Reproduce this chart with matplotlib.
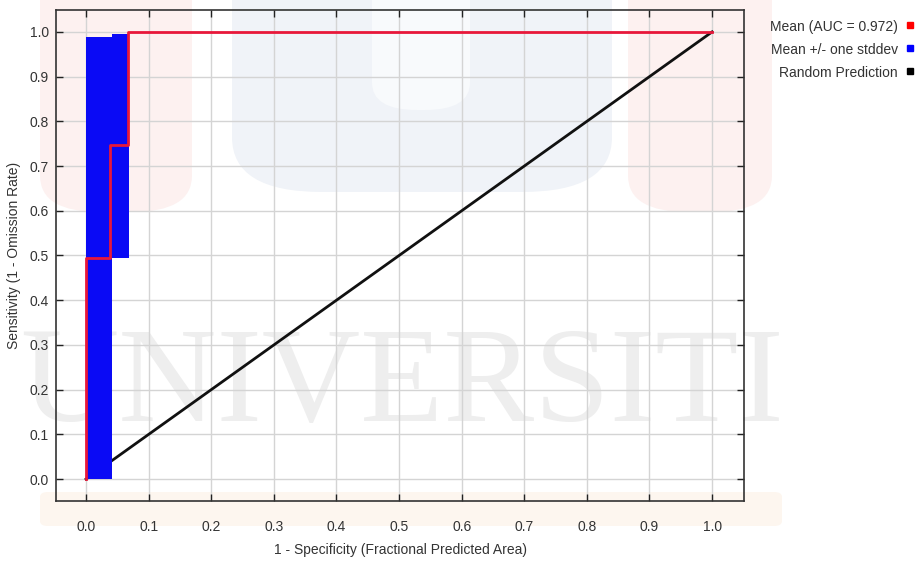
import matplotlib
matplotlib.use("Agg")
import matplotlib.pyplot as plt
from matplotlib.patches import FancyBboxPatch
from matplotlib.lines import Line2D

# mean ROC curve (step points)
mean_fpr = [0.0, 0.0, 0.039, 0.039, 0.067, 0.067, 1.0]
mean_tpr = [0.0, 0.494, 0.494, 0.746, 0.746, 1.0, 1.0]

# +/- one stddev band, drawn as steps
band_x = [0.0, 0.041, 0.041, 0.069]
band_lo = [0.0, 0.0, 0.494, 0.494]
band_hi = [0.988, 0.988, 0.995, 0.995]

rand_x = [0.0, 1.0]
rand_y = [0.0, 1.0]

ticks = [0.0, 0.1, 0.2, 0.3, 0.4, 0.5, 0.6, 0.7, 0.8, 0.9, 1.0]
tick_labels = ["0.0", "0.1", "0.2", "0.3", "0.4", "0.5", "0.6", "0.7", "0.8", "0.9", "1.0"]

legend_labels = ["Mean (AUC = 0.972)", "Mean +/- one stddev", "Random Prediction"]
legend_colors = ["#ff0000", "#0000ff", "#000000"]

plt.rcParams["font.family"] = ["Liberation Sans", "DejaVu Sans"]

W, H = 922, 561
fig = plt.figure(figsize=(W / 100, H / 100), dpi=100)
fig.patch.set_facecolor("white")


def px_box(x0, y0, x1, y1, color, r=30):
    # box given in pixel coords (top-left origin)
    p = FancyBboxPatch((x0 / W, 1 - y1 / H), (x1 - x0) / W, (y1 - y0) / H,
                       boxstyle="round,pad=0,rounding_size=%f" % (r / W),
                       transform=fig.transFigure, facecolor=color,
                       edgecolor="none", zorder=-5)
    fig.patches.append(p)


# faint logo in the background
px_box(40, -60, 192, 212, "#fdf1f0", 60)
px_box(628, -60, 772, 212, "#fdf1f0", 60)
px_box(232, -60, 612, 192, "#f0f3f8", 90)
px_box(372, -60, 470, 110, "#f8fafc", 45)
px_box(40, 492, 782, 526, "#fdf6ef", 8)
fig.text(402 / W, 1 - 388 / H, "UNIVERSITI", family="Liberation Serif",
         fontsize=98, color="#eeeeee", ha="center", va="center", zorder=-4)

ax = fig.add_axes([56 / W, 1 - 501 / H, (744 - 56) / W, (501 - 10) / H])
ax.set_facecolor("none")

ax.plot(rand_x, rand_y, color="#111111", lw=2, zorder=2)
ax.fill_between(band_x, band_lo, band_hi, step="post", color="#0a0af5",
                lw=0, zorder=3)
ax.plot(mean_fpr, mean_tpr, color="#e8173a", lw=2, zorder=4)

ax.set_xlim(-0.048, 1.051)
ax.set_ylim(-0.049, 1.049)
ax.set_xticks(ticks)
ax.set_xticklabels(tick_labels)
ax.set_yticks(ticks)
ax.set_yticklabels(tick_labels)
ax.tick_params(direction="in", length=5, width=1, colors="#222222",
               top=True, right=True, labelsize=10, pad=14)
ax.tick_params(axis="y", pad=5)
for lbl in ax.get_xticklabels() + ax.get_yticklabels():
    lbl.set_color("#333333")
ax.grid(True, color="#d4d4d4", lw=1)
ax.set_axisbelow(True)
for s in ax.spines.values():
    s.set_color("#333333")
    s.set_linewidth(1.2)

ax.set_xlabel("1 - Specificity (Fractional Predicted Area)", fontsize=10,
              color="#333333", labelpad=6)
ax.set_ylabel("Sensitivity (1 - Omission Rate)", fontsize=10,
              color="#333333", labelpad=6)

# legend on the right, text right-aligned with square markers
for i, (lab, col) in enumerate(zip(legend_labels, legend_colors)):
    yy = 1 - (27 + 23 * i) / H
    fig.text(898 / W, yy, lab, ha="right", va="center", fontsize=10,
             color="#333333")
    fig.add_artist(Line2D([910 / W], [yy + 2 / H], marker="s", markersize=5,
                          color=col, transform=fig.transFigure))

fig.savefig("out.png", dpi=100)
